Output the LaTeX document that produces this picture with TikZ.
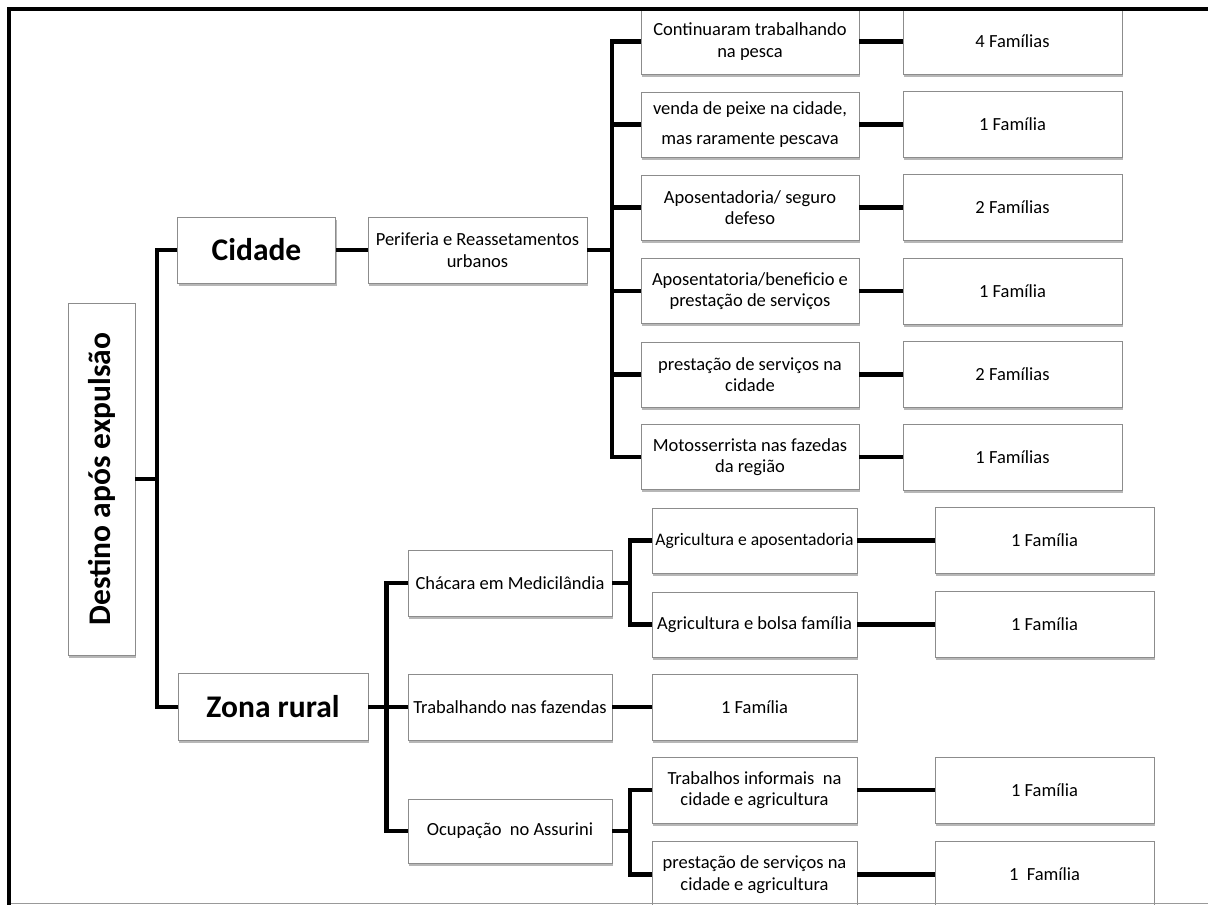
\documentclass[tikz,border=0pt]{standalone}
\usepackage{fontspec}
\setmainfont{Carlito}
\usetikzlibrary{shadows}
\begin{document}
\begin{tikzpicture}[x=1pt,y=-1pt,
  box/.style={draw=black!45, line width=0.9pt, fill=white, inner sep=0pt,
    align=center, font=\fontsize{18.5}{21.5}\selectfont,
    drop shadow={shadow xshift=1.2pt, shadow yshift=-2.5pt, opacity=0.4, fill=black!70}},
  mid/.style={box, minimum width=218pt, minimum height=65pt},
  fam/.style={box, minimum width=219pt, minimum height=66pt},
  rur/.style={box, minimum width=204pt, minimum height=66pt},
  sub/.style={box, minimum width=205pt, minimum height=65pt},
  big/.style={font=\fontsize{31.5}{36}\selectfont\bfseries},
  conn/.style={line width=4.5pt, black, line join=miter},
  frame/.style={line width=4pt, black}]
\useasboundingbox (0,0) rectangle (1208,905);
\clip (0,0) rectangle (1208,905);
\fill[white] (-2,-2) rectangle (1212,909);

% root
\node[box, minimum width=67pt, minimum height=352pt] (root) at (101.5,479) {};
\node[rotate=90, big] (rootlabel) at (root.center) {Destino após expulsão};

% first level
\node[box, big, minimum width=158pt, minimum height=66pt] (cidade) at (256.5,250) {Cidade};
\node[box, big, minimum width=190pt, minimum height=67pt] (zona) at (273,707) {Zona rural};
\coordinate (j0) at (157,479);

% city branch
\node[box, minimum width=219pt, minimum height=66pt] (peri) at (477.5,250) {Periferia e Reassetamentos\\urbanos};
\coordinate (j1) at (612,250);

\node[mid] (c1) at (750,41.5) {Continuaram trabalhando\\na pesca};
\node[mid] (c2) at (750,124.5) {venda de peixe na cidade,\\[9pt]mas raramente pescava};
\node[mid] (c3) at (750,207.5) {Aposentadoria/ seguro\\defeso};
\node[mid] (c4) at (750,291) {Aposentatoria/beneficio e\\prestação de serviços};
\node[mid] (c5) at (750,374.5) {prestação de serviços na\\cidade};
\node[mid] (c6) at (750,457) {Motosserrista nas fazedas\\da região};

\node[fam] (f1) at (1012.5,41.5) {4 Famílias};
\node[fam] (f2) at (1012.5,124.5) {1 Família};
\node[fam] (f3) at (1012.5,207.5) {2 Famílias};
\node[fam] (f4) at (1012.5,291) {1 Família};
\node[fam] (f5) at (1012.5,374.5) {2 Famílias};
\node[fam] (f6) at (1012.5,457) {1 Famílias};

% rural branch
\coordinate (j2) at (386.5,707);
\node[rur] (cha) at (510,583) {Chácara em Medicilândia};
\node[rur] (trab) at (510,707) {Trabalhando nas fazendas};
\node[rur, minimum height=64pt] (ocu) at (510,831) {Ocupação\ \ no Assurini};

\coordinate (j3) at (630,583);
\coordinate (j4) at (630,831);
\node[sub, font=\fontsize{17.6}{21.5}\selectfont] (a1) at (754.5,540.5) {Agricultura e aposentadoria};
\node[sub] (a2) at (754.5,624.5) {Agricultura e bolsa família};
\node[sub, minimum height=66pt] (tf) at (754.5,707) {1 Família};
\node[sub, minimum height=66pt] (t1) at (754.5,790) {Trabalhos informais\ \ na\\cidade e agricultura};
\node[sub, minimum height=66pt] (t2) at (754.5,874.5) {prestação de serviços na\\cidade e agricultura};

\node[fam] (g1) at (1044.5,540.5) {1 Família};
\node[fam] (g2) at (1044.5,624.5) {1 Família};
\node[fam] (g3) at (1044.5,790) {1 Família};
\node[fam] (g4) at (1044.5,874.5) {1\ \ Família};

% connectors
\draw[conn] (root.east) -- (j0);
\draw[conn] (cidade.west) -| (j0) |- (zona.west);
\draw[conn] (cidade.east) -- (peri.west);
\draw[conn] (peri.east) -- (j1);
\draw[conn] (c1.west) -| (j1) |- (c6.west);
\foreach \n in {c2,c3,c4,c5} \draw[conn] (\n.west) -- (\n.west -| j1);
\foreach \a/\b in {c1/f1,c2/f2,c3/f3,c4/f4,c5/f5,c6/f6} \draw[conn] (\a.east) -- (\b.west);

\draw[conn] (zona.east) -- (j2);
\draw[conn] (cha.west) -| (j2) |- (ocu.west);
\draw[conn] (trab.west) -- (j2);
\draw[conn] (cha.east) -- (j3);
\draw[conn] (a1.west) -| (j3) |- (a2.west);
\draw[conn] (trab.east) -- (tf.west);
\draw[conn] (ocu.east) -- (j4);
\draw[conn] (t1.west) -| (j4) |- (t2.west);
\foreach \a/\b in {a1/g1,a2/g2,t1/g3,t2/g4} \draw[conn] (\a.east) -- (\b.west);

% outer frame: heavy top and left edges, thin grey bottom edge
\fill[white] (1190,14) rectangle (1212,899);
\coordinate (fTL) at (9,8.5);
\coordinate (fTR) at (1210,8.5);
\coordinate (fBL) at (9,905);
\coordinate (fBR) at (1208,903.5);
\draw[frame] (fBL) -- (fTL) -- (fTR);
\draw[black!40, line width=1.2pt] (11,903.5) -- (fBR);
\end{tikzpicture}
\end{document}
